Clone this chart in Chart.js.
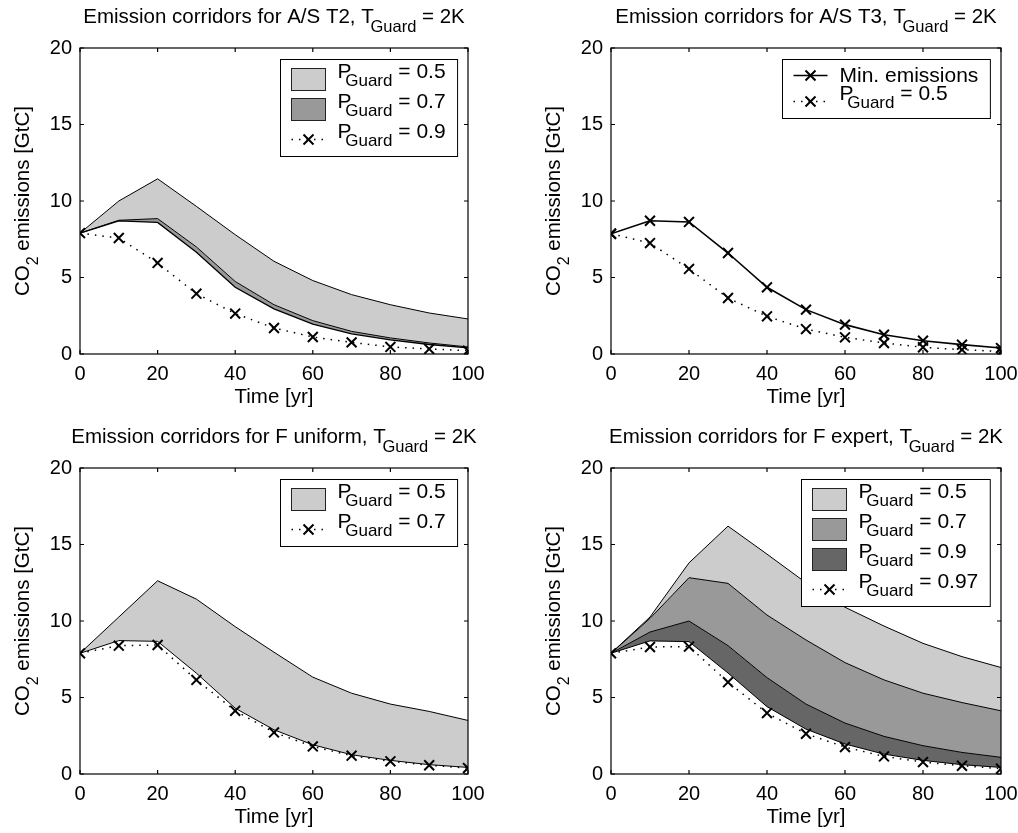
<!DOCTYPE html>
<html>
<head>
<meta charset="utf-8">
<script src="https://cdn.jsdelivr.net/npm/chart.js@4.4.1/dist/chart.umd.min.js"></script>
<style>
  html, body { margin: 0; padding: 0; background: #fff; }
  #wrap { position: relative; width: 1018px; height: 833px; overflow: hidden; }
  canvas { position: absolute; }
</style>
</head>
<body>
<div id="wrap">
  <canvas id="c1" width="509" height="412" style="left:0;top:0"></canvas>
  <canvas id="c2" width="509" height="412" style="left:509px;top:0"></canvas>
  <canvas id="c3" width="509" height="421" style="left:0;top:412px"></canvas>
  <canvas id="c4" width="509" height="421" style="left:509px;top:412px"></canvas>
</div>
<script>
const years = [0, 10, 20, 30, 40, 50, 60, 70, 80, 90, 100];

// A/S T2
const t2Upper50 = [7.9, 10.0, 11.45, 9.65, 7.8, 6.06, 4.8, 3.88, 3.22, 2.68, 2.29];
const t2Upper70 = [7.9, 8.74, 8.85, 7.0, 4.74, 3.22, 2.18, 1.48, 1.05, 0.72, 0.46];
const t2Min     = [7.9, 8.7, 8.6, 6.65, 4.36, 2.95, 1.95, 1.32, 0.92, 0.62, 0.4];
const t2P90     = [7.9, 7.58, 5.95, 3.94, 2.64, 1.7, 1.11, 0.76, 0.46, 0.33, 0.22];

// A/S T3
const t3Min = [7.86, 8.71, 8.63, 6.6, 4.36, 2.9, 1.92, 1.26, 0.87, 0.61, 0.39];
const t3P50 = [7.86, 7.25, 5.56, 3.66, 2.46, 1.63, 1.09, 0.72, 0.44, 0.28, 0.17];

// F uniform
const fuUpper50 = [7.89, 10.26, 12.63, 11.43, 9.63, 7.96, 6.33, 5.28, 4.57, 4.09, 3.5];
const fuMin     = [7.89, 8.72, 8.67, 6.59, 4.3, 2.89, 1.91, 1.26, 0.89, 0.61, 0.43];
const fuP70     = [7.89, 8.39, 8.43, 6.15, 4.13, 2.72, 1.8, 1.2, 0.83, 0.57, 0.39];

// F expert
const feUpper50 = [7.89, 10.26, 13.8, 16.2, 14.37, 12.5, 10.9, 9.67, 8.54, 7.67, 6.96];
const feUpper70 = [7.89, 10.17, 12.83, 12.46, 10.39, 8.76, 7.28, 6.15, 5.28, 4.67, 4.13];
const feUpper90 = [7.89, 9.28, 10.0, 8.39, 6.3, 4.57, 3.33, 2.46, 1.85, 1.41, 1.09];
const feMin     = [7.89, 8.7, 8.65, 6.6, 4.4, 2.93, 1.96, 1.3, 0.89, 0.61, 0.43];
const feP97     = [7.89, 8.3, 8.33, 6.0, 3.98, 2.63, 1.76, 1.15, 0.78, 0.54, 0.35];

// text: [main, subscript, tail]
const titleT2 = ['Emission corridors for A/S T2, T', 'Guard', ' = 2K'];
const titleT3 = ['Emission corridors for A/S T3, T', 'Guard', ' = 2K'];
const titleFu = ['Emission corridors for F uniform, T', 'Guard', ' = 2K'];
const titleFe = ['Emission corridors for F expert, T', 'Guard', ' = 2K'];
const yLabel = ['CO', '2', ' emissions [GtC]'];
const xLabel = 'Time [yr]';
const p50 = ['P', 'Guard', ' = 0.5'];
const p70 = ['P', 'Guard', ' = 0.7'];
const p90 = ['P', 'Guard', ' = 0.9'];
const p97 = ['P', 'Guard', ' = 0.97'];
const minLabel = ['Min. emissions'];

const LIGHT = '#cccccc', MID = '#999999', DARK = '#666666';
const DOTS = [1.5, 6];
const FAMILY = "'Liberation Sans', Arial, Helvetica, sans-serif";
const font = px => px + 'px ' + FAMILY;

const pts = arr => years.map((yr, i) => ({ x: yr, y: arr[i] }));

// draws main text, a TeX-style subscript and a tail; returns width
function rich(ctx, parts, x, y, size, subSize, kern, draw) {
  const [main, sub, tail] = parts;
  ctx.font = font(size);
  if (draw) ctx.fillText(main, x, y);
  let cx = x + ctx.measureText(main).width;
  if (sub) {
    cx -= kern * size;
    ctx.font = font(subSize);
    if (draw) ctx.fillText(sub, cx, y + size * 0.42);
    cx += ctx.measureText(sub).width;
  }
  if (tail) {
    ctx.font = font(size);
    if (draw) ctx.fillText(tail, cx, y);
    cx += ctx.measureText(tail).width;
  }
  return cx - x;
}

function drawX(ctx, x, y, r) {
  ctx.save();
  ctx.setLineDash([]);
  ctx.lineWidth = 2;
  ctx.beginPath();
  ctx.moveTo(x - r, y - r); ctx.lineTo(x + r, y + r);
  ctx.moveTo(x - r, y + r); ctx.lineTo(x + r, y - r);
  ctx.stroke();
  ctx.restore();
}

const framePlugin = {
  id: 'frame',
  afterDatasetsDraw(chart) {
    const { ctx, chartArea: a, scales: { x, y } } = chart;
    ctx.save();
    ctx.strokeStyle = '#000';
    ctx.lineWidth = 1.2;
    ctx.strokeRect(a.left, a.top, a.right - a.left, a.bottom - a.top);
    ctx.beginPath();
    x.ticks.forEach(t => {
      const px = x.getPixelForValue(t.value);
      ctx.moveTo(px, a.bottom); ctx.lineTo(px, a.bottom - 4);
      ctx.moveTo(px, a.top); ctx.lineTo(px, a.top + 4);
    });
    y.ticks.forEach(t => {
      const py = y.getPixelForValue(t.value);
      ctx.moveTo(a.left, py); ctx.lineTo(a.left + 4, py);
      ctx.moveTo(a.right, py); ctx.lineTo(a.right - 4, py);
    });
    ctx.stroke();
    ctx.restore();
  }
};

const textPlugin = {
  id: 'panelText',
  afterDraw(chart) {
    const o = chart.options.plugins.panelText;
    const { ctx, chartArea: a } = chart;
    const cx = (a.left + a.right) / 2;
    ctx.save();
    ctx.fillStyle = '#000';
    ctx.textBaseline = 'alphabetic';
    ctx.textAlign = 'left';

    // title
    const tw = rich(ctx, o.title, 0, 0, 20.5, 16.5, 0.16, false);
    rich(ctx, o.title, cx - tw / 2, a.top - 25, 20.5, 16.5, 0.16, true);

    // x label
    ctx.font = font(20.5);
    ctx.textAlign = 'center';
    ctx.fillText(xLabel, cx, a.bottom + 49);
    ctx.textAlign = 'left';

    // y label
    ctx.save();
    ctx.translate(a.left - 51, (a.top + a.bottom) / 2);
    ctx.rotate(-Math.PI / 2);
    const yw = rich(ctx, yLabel, 0, 0, 20.5, 16, 0, false);
    rich(ctx, yLabel, -yw / 2, 0, 20.5, 16, 0, true);
    ctx.restore();

    // legend
    const rows = o.legend;
    const hts = rows.map(r => (r.text[1] ? 30 : 22));
    const textW = Math.max(...rows.map(r => rich(ctx, r.text, 0, 0, 21, 17, 0.3, false)));
    const bw = 11 + 34 + 12 + textW + 12;
    const bh = 5 + hts.reduce((s, h) => s + h, 0) + 2;
    const bx = Math.round(a.right - 11 - bw) + 0.5, by = Math.round(a.top + 11) + 0.5;
    ctx.fillStyle = '#fff';
    ctx.fillRect(bx, by, bw, bh);
    ctx.strokeStyle = '#000';
    ctx.lineWidth = 1;
    ctx.strokeRect(bx, by, bw, bh);
    let cy = by + 5;
    rows.forEach((r, i) => {
      const mid = cy + hts[i] / 2;
      const sx = bx + 11;
      if (r.swatch === 'box') {
        ctx.fillStyle = r.color;
        ctx.fillRect(sx, mid - 11, 34, 22);
        ctx.strokeStyle = '#222';
        ctx.lineWidth = 1;
        ctx.strokeRect(sx, mid - 11, 34, 22);
      } else {
        ctx.strokeStyle = '#000';
        ctx.lineWidth = r.width;
        ctx.setLineDash(r.dash || []);
        ctx.beginPath();
        ctx.moveTo(sx, mid); ctx.lineTo(sx + 34, mid);
        ctx.stroke();
        ctx.setLineDash([]);
        drawX(ctx, sx + 17, mid, 5);
      }
      ctx.fillStyle = '#000';
      rich(ctx, r.text, sx + 46, r.text[1] ? mid - 2 : mid + 6, 21, 17, 0.3, true);
      cy += hts[i];
    });
    ctx.restore();
  }
};

function band(arr, color) {
  return { data: pts(arr), borderColor: '#000', borderWidth: 1, backgroundColor: color, fill: '+1', pointRadius: 0 };
}
function edge(arr, width) {
  return { data: pts(arr), borderColor: '#000', borderWidth: width, fill: false, pointRadius: 0 };
}
function marked(arr, dash, width) {
  return {
    data: pts(arr), borderColor: '#000', borderWidth: width, borderDash: dash, fill: false,
    pointStyle: 'crossRot', pointRadius: 7, pointBorderWidth: 2, pointBorderColor: '#000'
  };
}

function makePanel(id, datasets, title, legend, yAxisW, rightPad, topPad, xAxisH) {
  const tickFont = { family: FAMILY, size: 20 };
  new Chart(document.getElementById(id), {
    type: 'line',
    data: { datasets },
    options: {
      responsive: false,
      animation: false,
      events: [],
      layout: { autoPadding: false, padding: { left: 0, right: rightPad, top: topPad, bottom: 0 } },
      scales: {
        x: {
          type: 'linear', min: 0, max: 100,
          ticks: { stepSize: 20, font: tickFont, color: '#000', padding: 8, maxRotation: 0 },
          grid: { display: false, drawTicks: false },
          border: { display: false },
          afterFit: s => { s.height = xAxisH; s.paddingLeft = 0; s.paddingRight = 0; }
        },
        y: {
          min: 0, max: 20,
          ticks: { stepSize: 5, font: tickFont, color: '#000', padding: 8 },
          grid: { display: false, drawTicks: false },
          border: { display: false },
          afterFit: s => { s.width = yAxisW; s.paddingTop = 0; s.paddingBottom = 0; }
        }
      },
      plugins: {
        legend: { display: false },
        tooltip: { enabled: false },
        filler: { propagate: false, drawTime: 'beforeDatasetsDraw' },
        panelText: { title, legend }
      }
    },
    plugins: [framePlugin, textPlugin]
  });
}

makePanel('c1',
  [band(t2Upper50, LIGHT), band(t2Upper70, MID), edge(t2Min, 1.3), marked(t2P90, DOTS, 1.5)],
  titleT2,
  [
    { swatch: 'box', color: LIGHT, text: p50 },
    { swatch: 'box', color: MID, text: p70 },
    { swatch: 'line', dash: DOTS, width: 1.5, text: p90 }
  ],
  80, 41, 48, 58);

makePanel('c2',
  [marked(t3Min, [], 1.6), marked(t3P50, DOTS, 1.5)],
  titleT3,
  [
    { swatch: 'line', dash: [], width: 1.6, text: minLabel },
    { swatch: 'line', dash: DOTS, width: 1.5, text: p50 }
  ],
  102, 17, 48, 58);

makePanel('c3',
  [band(fuUpper50, LIGHT), edge(fuMin, 1), marked(fuP70, DOTS, 1.5)],
  titleFu,
  [
    { swatch: 'box', color: LIGHT, text: p50 },
    { swatch: 'line', dash: DOTS, width: 1.5, text: p70 }
  ],
  80, 41, 56, 59);

makePanel('c4',
  [band(feUpper50, LIGHT), band(feUpper70, MID), band(feUpper90, DARK), edge(feMin, 1), marked(feP97, DOTS, 1.5)],
  titleFe,
  [
    { swatch: 'box', color: LIGHT, text: p50 },
    { swatch: 'box', color: MID, text: p70 },
    { swatch: 'box', color: DARK, text: p90 },
    { swatch: 'line', dash: DOTS, width: 1.5, text: p97 }
  ],
  102, 17, 56, 59);
</script>
</body>
</html>
